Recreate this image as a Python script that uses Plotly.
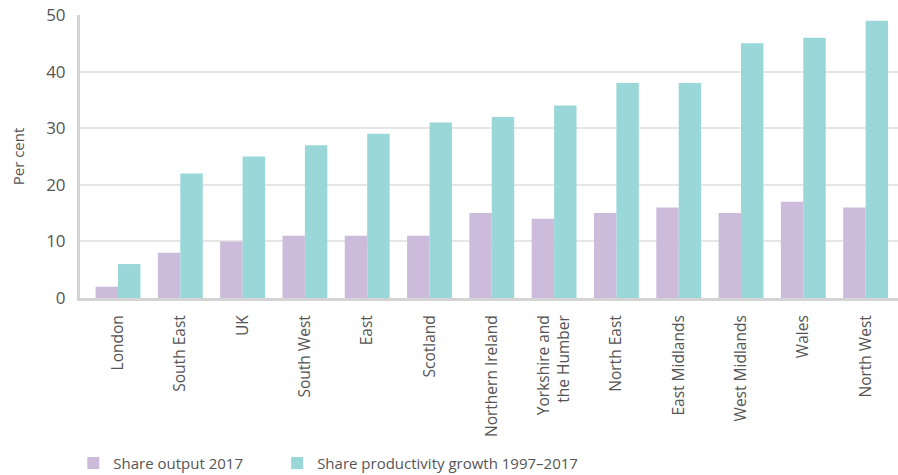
import plotly.graph_objects as go

regions = ["London", "South East", "UK", "South West", "East", "Scotland",
           "Northern Ireland", "Yorkshire and<br>the Humber", "North East",
           "East Midlands", "West Midlands", "Wales", "North West"]
share_output_2017 = [2, 8, 10, 11, 11, 11, 15, 14, 15, 16, 15, 17, 16]
share_productivity_growth = [6, 22, 25, 27, 29, 31, 32, 34, 38, 38, 45, 46, 49]
y_ticks = [0, 10, 20, 30, 40, 50]

FONT = "'Open Sans', Lato, sans-serif"
TXT = "#555555"

fig = go.Figure()
fig.add_trace(go.Bar(x=list(range(len(regions))), y=share_output_2017,
                     name="Share output 2017", marker_color="#cdbbdb",
                     marker_line_width=0, legend="legend"))
fig.add_trace(go.Bar(x=list(range(len(regions))), y=share_productivity_growth,
                     name="Share productivity growth 1997\u20132017",
                     marker_color="#9ad7d8", marker_line_width=0,
                     legend="legend2"))

leg_common = dict(orientation="h", xanchor="left", yref="container", y=0.025,
                  yanchor="middle", font=dict(size=15, color=TXT),
                  bgcolor="rgba(0,0,0,0)")
fig.update_layout(
    width=898, height=475,
    margin=dict(l=80, r=0, t=15, b=177),
    paper_bgcolor="white", plot_bgcolor="white",
    barmode="group", bargap=0.28, bargroupgap=0,
    font=dict(family=FONT, size=15, color=TXT),
    legend=dict(x=-0.0082, **leg_common),
    legend2=dict(x=0.241, **leg_common),
    showlegend=True,
)
fig.update_xaxes(
    tickmode="array", tickvals=list(range(len(regions))), ticktext=regions,
    range=[-0.61, 12.52], tickangle=-90, showgrid=False,
    showline=True, linecolor="#d4d4d4", linewidth=3, ticks="",
    ticklabelstandoff=8,
    tickfont=dict(size=15.5, color=TXT), zeroline=False,
)
fig.update_yaxes(
    range=[0, 50], tickvals=y_ticks, showgrid=True, gridcolor="#e6e6e6",
    gridwidth=1.5, showline=True, linecolor="#d4d4d4", linewidth=3,
    ticks="", ticklabelstandoff=8, tickfont=dict(size=17, color=TXT),
    title=dict(text="Per cent", font=dict(size=15, color=TXT), standoff=18),
    zeroline=False,
)
fig.write_html("out.html", config={"displayModeBar": False},
               post_script="document.body.style.margin='0';document.body.style.overflow='hidden';")
